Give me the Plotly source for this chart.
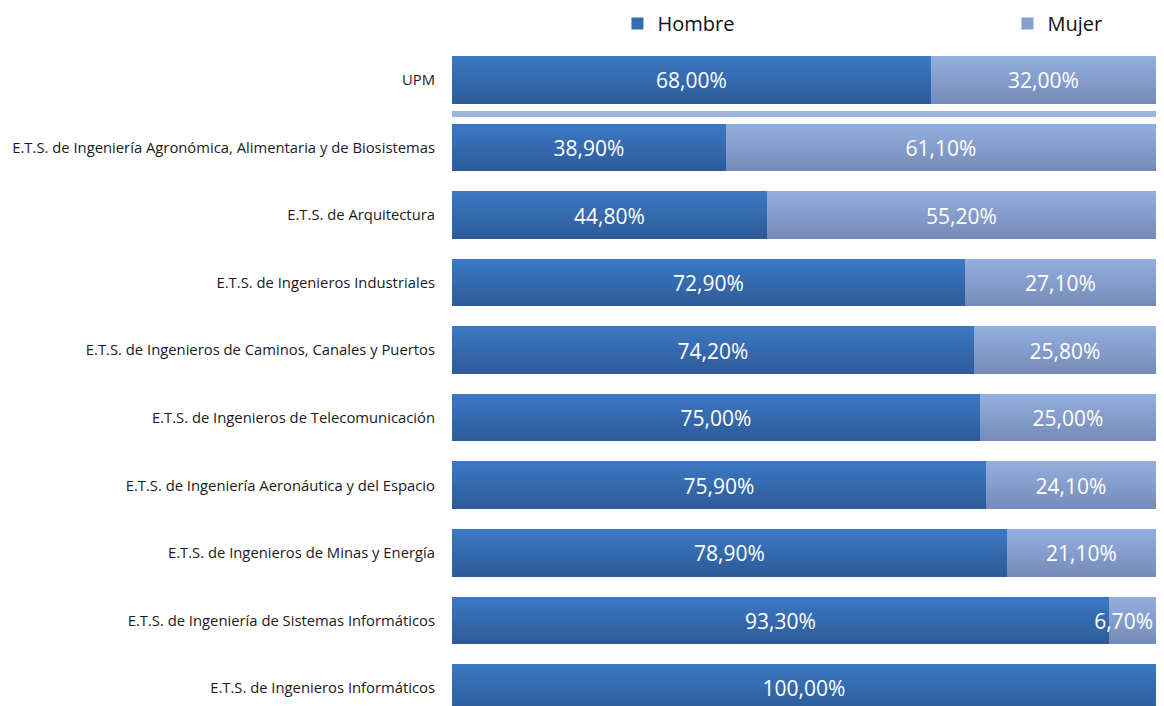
import plotly.graph_objects as go

# Escuelas de arriba a abajo (UPM primero, luego las escuelas)
centros = [
    "UPM",
    "E.T.S. de Ingeniería Agronómica, Alimentaria y de Biosistemas",
    "E.T.S. de Arquitectura",
    "E.T.S. de Ingenieros Industriales",
    "E.T.S. de Ingenieros de Caminos, Canales y Puertos",
    "E.T.S. de Ingenieros de Telecomunicación",
    "E.T.S. de Ingeniería Aeronáutica y del Espacio",
    "E.T.S. de Ingenieros de Minas y Energía",
    "E.T.S. de Ingeniería de Sistemas Informáticos",
    "E.T.S. de Ingenieros Informáticos",
]
hombre = [68.0, 38.9, 44.8, 72.9, 74.2, 75.0, 75.9, 78.9, 93.3, 100.0]
mujer = [32.0, 61.1, 55.2, 27.1, 25.8, 25.0, 24.1, 21.1, 6.7, 0.0]
separador = [100.0]

# degradado (abajo -> arriba) estilo Excel
GRAD_H = ((0x2e, 0x5b, 0x98), (0x3b, 0x78, 0xc4))
GRAD_M = ((0x76, 0x8a, 0xb8), (0x92, 0xaf, 0xe0))
COLOR_SEP = "#9bb5dc"
FUENTE = "Open Sans"
ANCHO = 0.7
N_FRANJAS = 14
MIN_CENTRADO = 10  # por debajo de esto la etiqueta va pegada al final


def etiqueta(v):
    # formato español: coma decimal
    return "" if v == 0 else f"{v:.2f}".replace(".", ",") + "%"


def mezcla(grad, t):
    a, b = grad
    return "rgb(%d,%d,%d)" % tuple(round(a[i] + (b[i] - a[i]) * t) for i in range(3))


n = len(centros)
pos = [n - 1 - i for i in range(n)]  # UPM arriba

fig = go.Figure()
series = [
    ("Hombre", hombre, [0] * n, GRAD_H, "legend"),
    ("Mujer", mujer, hombre, GRAD_M, "legend2"),
]
paso = ANCHO / N_FRANJAS
for nombre, vals, base, grad, ley in series:
    # franjas horizontales para simular el degradado
    for k in range(N_FRANJAS):
        fig.add_trace(go.Bar(
            y=pos, x=vals, base=base, orientation="h",
            offset=-ANCHO / 2 + k * paso, width=paso * 1.08,
            marker=dict(color=mezcla(grad, (k + 0.5) / N_FRANJAS), line_width=0),
            name=nombre, legend=ley, showlegend=(k == N_FRANJAS // 2),
            hoverinfo="skip",
        ))
    # capas transparentes con las etiquetas (centradas / al final si la barra es corta)
    for anc, cond in (("middle", lambda v: v >= MIN_CENTRADO), ("end", lambda v: v < MIN_CENTRADO)):
        fig.add_trace(go.Bar(
            y=pos, x=vals, base=base, orientation="h", width=ANCHO,
            marker=dict(color="rgba(0,0,0,0)", line_width=0),
            text=[etiqueta(v) if cond(v) else "" for v in vals], textposition="inside",
            insidetextanchor=anc, constraintext="none", cliponaxis=False,
            textfont=dict(color="white", size=21, family=FUENTE),
            name=nombre, showlegend=False, hoverinfo="skip",
        ))

# barra separadora entre UPM y las escuelas
fig.add_trace(go.Bar(
    y=[n - 1.5], x=separador, orientation="h", base=0,
    marker=dict(color=COLOR_SEP, line_width=0), width=0.09,
    showlegend=False, hoverinfo="skip",
))

leyenda = dict(
    orientation="h", xanchor="left", y=1.003, yanchor="bottom",
    font=dict(size=20, color="#111111", family=FUENTE),
    itemwidth=30, bgcolor="rgba(0,0,0,0)",
)
fig.update_layout(
    width=1148, height=698,
    barmode="overlay",
    paper_bgcolor="white", plot_bgcolor="white",
    font=dict(family=FUENTE, color="#1a1a1a", size=14.8),
    margin=dict(l=444, r=0, t=37, b=0, autoexpand=False),
    bargap=0,
    legend=dict(leyenda, x=0.235),
    legend2=dict(leyenda, x=0.789),
)
fig.update_xaxes(visible=False, range=[0, 100], showgrid=False, zeroline=False)
fig.update_yaxes(
    tickvals=pos, ticktext=centros, range=[-0.266, n - 1 + 0.52],
    showgrid=False, zeroline=False, showline=False, ticks="",
    ticklabelstandoff=16, tickfont=dict(size=14.8, color="#1a1a1a"),
)

fig.write_html("out.html")
